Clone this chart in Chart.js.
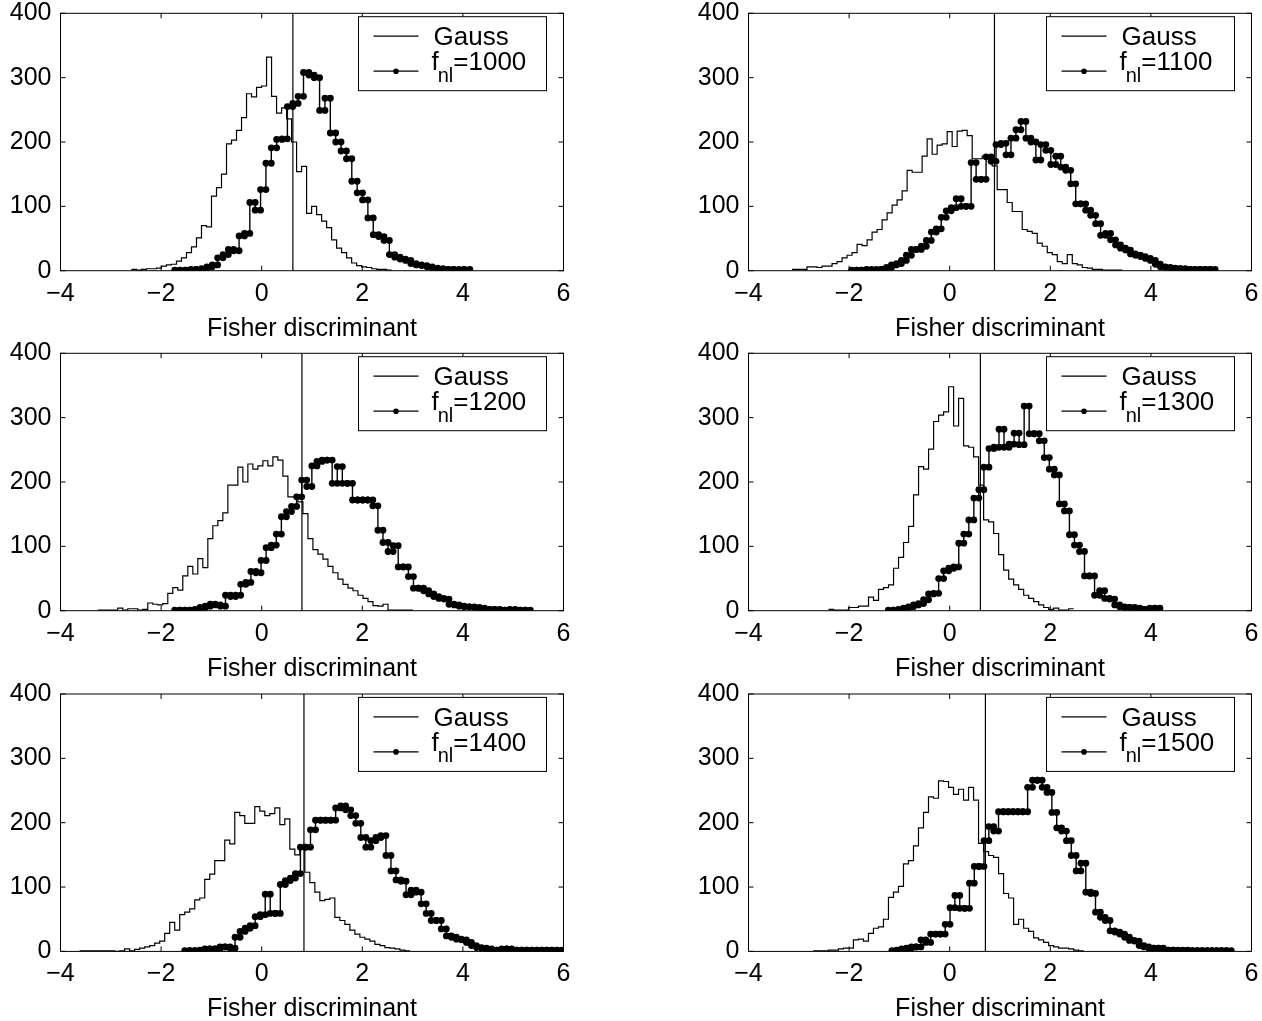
<!DOCTYPE html>
<html>
<head>
<meta charset="utf-8">
<script src="https://cdn.jsdelivr.net/npm/chart.js@4.4.1/dist/chart.umd.min.js"></script>
<style>
  body { margin: 0; background: #fff; width: 1262px; height: 1021px; position: relative; overflow: hidden; }
  canvas { position: absolute; }
</style>
</head>
<body>
<script>
// fnl values of the six panels
const fnlValues = [1000, 1100, 1200, 1300, 1400, 1500];
// position of the vertical cut line
const cutValues = [0.62, 0.89, 0.80, 0.61, 0.84, 0.71];

const xTicks = [-4, -2, 0, 2, 4, 6];
const yTicks = [0, 100, 200, 300, 400];

// gaussian histograms: first bin edge, bin width, counts
const gaussStart = [-2.59, -3.135, -3.26, -2.41, -3.62, -2.71];
const gaussWidth = 0.0995;
const gauss1000 = [2,1,2,3,3,4,7,9,10,15,20,28,37,51,70,68,116,129,150,197,203,218,238,275,270,285,287,332,271,245,253,236,200,154,162,89,100,87,77,67,48,35,28,20,12,8,6,5,3,2,2,1];
const gauss1100 = [2,2,2,6,6,5,7,7,11,14,20,24,28,41,39,48,60,64,79,90,102,110,124,156,153,153,178,205,181,195,197,216,193,217,218,210,174,174,178,176,163,126,126,106,92,92,64,61,58,43,38,28,25,14,11,25,11,9,5,4,2,2,1,1,1,1];
const gauss1200 = [1,1,1,1,4,1,3,3,1,2,12,10,9,11,27,36,32,54,69,57,81,67,112,132,140,152,195,195,223,200,228,220,225,233,225,239,234,209,177,177,169,151,112,95,88,80,69,59,49,41,35,31,24,19,14,8,7,10,1,1,1,1,1];
const gauss1300 = [2,1,1,1,5,5,7,7,21,16,33,36,40,66,83,106,131,180,224,220,251,294,304,309,348,287,330,256,254,239,195,141,138,120,87,63,49,40,33,24,19,14,9,5,2,4,1,1,3];
const gauss1400 = [1,1,1,1,1,1,1,0,1,4,1,3,5,7,9,13,16,28,45,33,57,61,66,80,83,112,120,141,141,173,167,216,211,199,199,225,218,211,214,223,197,206,159,150,162,123,107,92,79,81,83,53,48,42,33,27,22,19,16,11,9,6,5,4,2,1];
const gauss1500 = [1,1,1,2,2,4,5,5,18,19,16,28,36,38,50,84,92,101,136,141,164,192,216,240,238,265,264,255,244,252,235,255,235,168,155,149,146,121,90,83,42,50,36,31,21,18,14,9,7,5,5,4,2,1];

// non-gaussian histograms
const fnlStart = [-1.73, -1.95, -1.73, -1.22, -1.53, -1.15];
const fnlWidth = [0.1067, 0.099, 0.101, 0.1, 0.1, 0.0964];
const fnl1000 = [1,1,1,2,2,3,6,9,20,25,33,31,54,58,106,94,126,167,191,204,205,255,260,271,308,304,300,249,268,214,200,186,174,139,121,110,82,56,53,47,25,21,18,16,11,9,8,6,4,3,2,2,2,1,2];
const fnl1100 = [1,1,1,2,1,2,2,5,9,11,16,24,33,33,38,47,60,65,83,93,98,112,100,100,168,142,142,177,170,196,198,180,206,219,232,206,200,172,196,187,165,178,161,156,135,104,104,94,86,73,55,58,48,40,35,32,26,24,22,19,16,10,6,5,4,3,3,2,2,2,2,2,2];
const fnl1200 = [1,1,1,1,2,5,7,10,9,7,24,22,24,41,44,61,59,78,98,102,119,146,154,162,177,203,193,225,232,234,234,198,224,198,198,172,172,172,172,163,125,106,92,101,68,68,53,35,35,31,26,22,19,18,10,9,7,6,6,5,4,2,2,2,1,1,2,1,1,1];
const fnl1300 = [1,1,2,4,6,9,11,17,26,27,50,62,66,68,105,119,141,175,188,223,252,254,282,254,259,276,258,318,275,275,264,238,220,211,166,155,118,102,92,54,54,24,31,19,18,9,6,5,5,4,2,2,4,4];
const fnl1400 = [1,1,1,2,4,4,4,7,7,5,22,31,36,40,54,57,89,59,59,104,110,114,121,162,162,189,204,204,204,204,223,226,220,211,199,177,162,172,177,180,149,125,111,109,88,95,92,74,59,48,48,35,24,22,19,18,14,9,6,5,4,2,2,4,4,2,2,2,2,2,2,2,2,2,2];
const fnl1500 = [1,2,4,5,7,7,18,14,27,27,27,42,68,87,67,67,106,132,132,172,194,187,217,217,217,217,217,217,255,266,266,255,247,216,192,187,172,149,125,137,92,90,61,53,48,32,30,27,22,17,16,9,7,5,5,5,2,2,2,1,2,1,1,1,1,1,1,1,1,1];

const gaussSets = [gauss1000, gauss1100, gauss1200, gauss1300, gauss1400, gauss1500];
const fnlSets = [fnl1000, fnl1100, fnl1200, fnl1300, fnl1400, fnl1500];

// plot-area placement on the page
const plotLefts = [60.5, 748.5];
const plotTops = [13.3, 353.3, 694];
const plotW = 503, plotH = 257.4;

const FONT = "'Liberation Sans', Arial, Helvetica, sans-serif";

function stairs(start, width, counts) {
  const pts = [];
  counts.forEach((c, i) => {
    pts.push({ x: start + i * width, y: c });
    pts.push({ x: start + (i + 1) * width, y: c });
  });
  return pts;
}

function fmt(v) {
  return v < 0 ? '\u2212' + Math.abs(v) : String(v);
}

// box, inward ticks and legend, drawn like the original figure
const framePlugin = {
  id: 'frame',
  afterDraw(chart, args, opts) {
    const { ctx, chartArea: a, scales: { x, y } } = chart;
    ctx.save();
    ctx.strokeStyle = '#000';
    ctx.lineWidth = 1;
    ctx.strokeRect(a.left, a.top, a.right - a.left, a.bottom - a.top);
    ctx.beginPath();
    xTicks.forEach(v => {
      const px = x.getPixelForValue(v);
      ctx.moveTo(px, a.bottom); ctx.lineTo(px, a.bottom - 5);
      ctx.moveTo(px, a.top); ctx.lineTo(px, a.top + 5);
    });
    yTicks.forEach(v => {
      const py = y.getPixelForValue(v);
      ctx.moveTo(a.left, py); ctx.lineTo(a.left + 5, py);
      ctx.moveTo(a.right, py); ctx.lineTo(a.right - 5, py);
    });
    ctx.stroke();

    // legend
    const lw = 188, lh = 74;
    const lx = a.right - 205, ly = a.top + 3.4;
    ctx.fillStyle = '#fff';
    ctx.fillRect(lx, ly, lw, lh);
    ctx.strokeRect(lx, ly, lw, lh);
    ctx.lineWidth = 1.2;
    ctx.beginPath();
    ctx.moveTo(lx + 15, ly + 19.5); ctx.lineTo(lx + 60, ly + 19.5);
    ctx.moveTo(lx + 15, ly + 54.5); ctx.lineTo(lx + 60, ly + 54.5);
    ctx.stroke();
    ctx.fillStyle = '#000';
    ctx.beginPath();
    ctx.arc(lx + 37.5, ly + 54.5, 2.8, 0, Math.PI * 2);
    ctx.fill();
    ctx.textBaseline = 'alphabetic';
    ctx.textAlign = 'left';
    ctx.font = '26px ' + FONT;
    ctx.fillText('Gauss', lx + 75, ly + 28.5);
    ctx.fillText('f', lx + 73, ly + 53.5);
    const fw = ctx.measureText('f').width;
    ctx.font = '20px ' + FONT;
    ctx.fillText('nl', lx + 73 + fw - 1, ly + 65);
    const nw = ctx.measureText('nl').width;
    ctx.font = '26px ' + FONT;
    ctx.fillText('=' + opts.fnl, lx + 73 + fw - 1 + nw, ly + 53.5);
    ctx.restore();
  }
};

const yAxisW = 70, xAxisH = 75;
const padL = 40, padT = 40, padR = 40, padB = 10;

for (let p = 0; p < 6; p++) {
  const col = p % 2, row = Math.floor(p / 2);
  const left = plotLefts[col], top = plotTops[row];
  const cL = Math.floor(left - padL - yAxisW);
  const cT = Math.floor(top - padT);
  const offL = left - cL - yAxisW;
  const offT = top - cT;
  const cw = Math.ceil(offL + yAxisW + plotW + padR);
  const ch = Math.ceil(offT + plotH + xAxisH + padB);

  const canvas = document.createElement('canvas');
  canvas.width = cw; canvas.height = ch;
  canvas.style.left = cL + 'px'; canvas.style.top = cT + 'px';
  canvas.style.width = cw + 'px'; canvas.style.height = ch + 'px';
  document.body.appendChild(canvas);

  new Chart(canvas.getContext('2d'), {
    type: 'line',
    data: {
      datasets: [
        {
          label: 'Gauss',
          data: stairs(gaussStart[p], gaussWidth, gaussSets[p]),
          borderColor: '#000', borderWidth: 1.2, pointRadius: 0, tension: 0
        },
        {
          label: 'fnl=' + fnlValues[p],
          data: stairs(fnlStart[p], fnlWidth[p], fnlSets[p]),
          borderColor: '#000', borderWidth: 1.4, tension: 0,
          pointRadius: 3.4, pointBackgroundColor: '#000', pointBorderWidth: 0
        },
        {
          label: 'cut',
          data: [{ x: cutValues[p], y: 0 }, { x: cutValues[p], y: 400 }],
          borderColor: '#000', borderWidth: 1.2, pointRadius: 0
        }
      ]
    },
    options: {
      responsive: false,
      animation: false,
      devicePixelRatio: 1,
      layout: { padding: { left: offL, top: offT, right: cw - offL - yAxisW - plotW, bottom: ch - offT - plotH - xAxisH } },
      plugins: {
        legend: { display: false },
        tooltip: { enabled: false },
        frame: { fnl: fnlValues[p] }
      },
      scales: {
        x: {
          type: 'linear', min: -4, max: 6,
          afterBuildTicks: s => { s.ticks = xTicks.map(v => ({ value: v })); },
          afterFit: s => { s.height = xAxisH; },
          grid: { display: false, drawTicks: false },
          border: { display: false },
          ticks: { color: '#000', padding: 8, maxRotation: 0, font: { family: FONT, size: 25 }, callback: v => fmt(v) },
          title: { display: true, text: 'Fisher discriminant', color: '#000', font: { family: FONT, size: 25 }, padding: { top: 0, bottom: 2 } }
        },
        y: {
          type: 'linear', min: 0, max: 400,
          afterBuildTicks: s => { s.ticks = yTicks.map(v => ({ value: v })); },
          afterFit: s => { s.width = yAxisW; },
          grid: { display: false, drawTicks: false },
          border: { display: false },
          ticks: { color: '#000', padding: 9, font: { family: FONT, size: 25 }, callback: v => fmt(v) }
        }
      }
    },
    plugins: [framePlugin]
  });
}
</script>
</body>
</html>
